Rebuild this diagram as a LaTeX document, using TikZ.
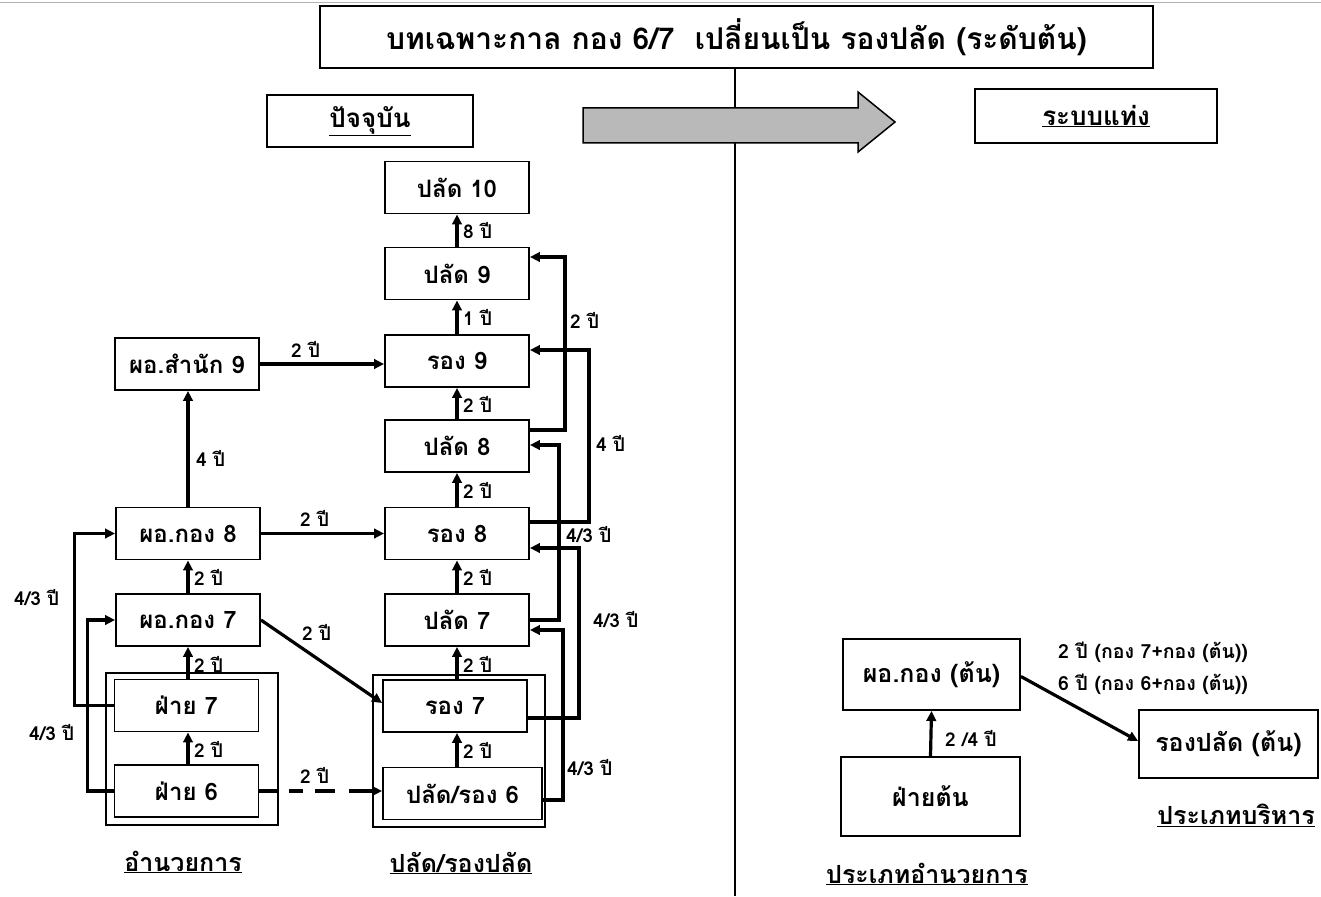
\documentclass[tikz,border=0pt]{standalone}
\usepackage{fontspec}
\setmainfont[Script=Thai]{Loma}
\usetikzlibrary{arrows.meta}
\begin{document}
\begin{tikzpicture}[x=1pt,y=-1pt,
 box/.style={draw, line width=1.9pt, inner sep=0pt, minimum width=144pt, minimum height=52pt, font=\bfseries\fontsize{24}{28}\selectfont},
 bigbox/.style={box, font=\bfseries\fontsize{25}{29}\selectfont},
 grp/.style={draw, line width=1.9pt, inner sep=0pt},
 conn/.style={line width=3.2pt, -{Triangle[length=10pt,width=9.5pt]}},
 lab/.style={font=\bfseries\fontsize{19}{22}\selectfont, inner sep=0pt, anchor=west},
 captxt/.style={font=\bfseries\fontsize{25}{29}\selectfont, inner sep=0pt}]
\useasboundingbox (0,0) rectangle (1321,896);
\draw[gray!60, line width=1pt] (0,3) -- (1321,3);

% title and headers
\node[box, minimum width=833pt, minimum height=62pt, font=\bfseries\fontsize{30}{34}\selectfont] (title) at (736.5,37) {บทเฉพาะกาล กอง 6/7\ \ เปลี่ยนเป็น รองปลัด (ระดับต้น)};
\coordinate (bot) at (735,896);
\draw[line width=1.4pt] (title.south -| bot) -- (bot);
\node[box, minimum width=206pt, minimum height=52pt, font=\bfseries\fontsize{26}{30}\selectfont] (now) at (370,121) {\underline{ปัจจุบัน}};
\node[box, minimum width=242pt, minimum height=54pt, font=\bfseries\fontsize{26}{30}\selectfont] (bar) at (1096,116) {\underline{ระบบแท่ง}};
\draw[line width=1.5pt, fill=gray!55] (583,108) -- (858,108) -- (858,92) -- (895,122) -- (858,152) -- (858,143) -- (583,143) -- cycle;

% groups
\node[grp, minimum width=172pt, minimum height=152pt] (g1) at (192,749) {};
\node[grp, minimum width=172pt, minimum height=152pt] (g2) at (459,751) {};

% middle column
\node[box] (p10) at (457,187.5) {ปลัด 10};
\node[box] (p9) at (457,273.5) {ปลัด 9};
\node[box] (r9) at (457,361) {รอง 9};
\node[box] (p8) at (457,446) {ปลัด 8};
\node[box] (r8) at (457,533.5) {รอง 8};
\node[box] (p7) at (457,620) {ปลัด 7};
\node[box] (r7) at (455,706) {รอง 7};
\node[box, minimum width=159pt] (p6) at (462.5,793.5) {ปลัด/รอง 6};

% left column
\node[box] (s9) at (187,364) {ผอ.สำนัก 9};
\node[box] (k8) at (188,533.5) {ผอ.กอง 8};
\node[box] (k7) at (188,620) {ผอ.กอง 7};
\node[box] (f7) at (186.5,705.5) {ฝ่าย 7};
\node[box] (f6) at (186.5,791) {ฝ่าย 6};

% right side
\node[bigbox, minimum width=177pt, minimum height=71pt] (kt) at (931.5,674.5) {ผอ.กอง (ต้น)};
\node[bigbox, minimum width=179pt, minimum height=79pt] (ft) at (930.5,796.5) {ฝ่ายต้น};
\node[bigbox, minimum width=179pt, minimum height=68pt] (rt) at (1228.5,744) {รองปลัด (ต้น)};

% captions
\node[captxt] (c1) at (183,862) {\underline{อำนวยการ}};
\node[captxt] (c2) at (461,863) {\underline{ปลัด/รองปลัด}};
\node[captxt] (c3) at (927,874) {\underline{ประเภทอำนวยการ}};
\node[captxt] (c4) at (1236,815) {\underline{ประเภทบริหาร}};

% middle vertical arrows
\draw[conn] (p9.north) -- (p10.south);
\draw[conn] (r9.north) -- (p9.south);
\draw[conn] (p8.north) -- (r9.south);
\draw[conn] (r8.north) -- (p8.south);
\draw[conn] (p7.north) -- (r8.south);
\draw[conn] (r7.north -| p7.north) -- (p7.south);
\draw[conn] (p6.north -| p7.north) -- (r7.south -| p7.north);
\node[lab] (l1) at (463,231) {8 ปี};
\node[lab] (l2) at (463,317) {1 ปี};
\node[lab] (l3) at (463,404) {2 ปี};
\node[lab] (l4) at (463,490) {2 ปี};
\node[lab] (l5) at (463,577) {2 ปี};
\node[lab] (l6) at (463,664) {2 ปี};
\node[lab] (l7) at (463,750) {2 ปี};

% left vertical arrows
\draw[conn] (k8.north) -- (s9.south -| k8.north);
\draw[conn] (k7.north) -- (k8.south);
\draw[conn] (f7.north -| k7.north) -- (k7.south);
\draw[conn] (f6.north -| k7.north) -- (f7.south -| k7.north);
\node[lab] (l8) at (196,458) {4 ปี};
\node[lab] (l9) at (194,577) {2 ปี};
\node[lab] (l10) at (194,664) {2 ปี};
\node[lab] (l11) at (194,749) {2 ปี};

% horizontal / diagonal
\draw[conn] (s9.east) -- (s9.east -| r9.west);
\node[lab] (l12) at (291,349) {2 ปี};
\draw[conn] (k8.east) -- (r8.west);
\node[lab] (l13) at (300,518) {2 ปี};
\draw[conn] (k7.east) -- ([yshift=3pt]r7.west);
\node[lab] (l14) at (302,632) {2 ปี};
\draw[line width=3.2pt] (f6.east) -- (f6.east -| g1.east);
\draw[conn, dash pattern=on 0pt off 10pt on 14pt off 12pt on 20pt off 14pt on 40pt] (f6.east -| g1.east) -- (f6.east -| p6.west);
\node[lab] (l15) at (300,775) {2 ปี};

% left side loops
\draw[conn] (f7.west) -- ++(-39,0) |- (k8.west);
\draw[conn] (f6.west) -- ++(-26,0) |- (k7.west);
\node[lab] (l16) at (14,598) {4/3 ปี};
\node[lab] (l17) at (29,733) {4/3 ปี};

% right side loops
\draw[conn] ([yshift=16pt]p8.east) -- ++(35,0) |- ([yshift=16.5pt]p9.east);
\draw[conn] ([yshift=11.5pt]r8.east) -- ++(59,0) |- ([yshift=11pt]r9.east);
\draw[conn] (p7.east) -- ++(29,0) |- ([yshift=1pt]p8.east);
\draw[conn] ([yshift=-12pt]r7.east) -- ++(51,0) |- ([yshift=-14.5pt]r8.east);
\draw[conn] ([yshift=-6.5pt]p6.east) -- ++(20,0) |- ([yshift=-10pt]p7.east);
\node[lab] (l18) at (570,320) {2 ปี};
\node[lab] (l19) at (596,443) {4 ปี};
\node[lab] (l20) at (566,535) {4/3 ปี};
\node[lab] (l21) at (593,620) {4/3 ปี};
\node[lab] (l22) at (567,768) {4/3 ปี};

% right diagram
\draw[conn] (ft.north) -- (kt.south);
\node[lab] (l23) at (945,738) {2 /4 ปี};
\draw[conn] ([yshift=-2pt]kt.east) -- ([yshift=3pt]rt.west);
\node[lab, font=\bfseries\fontsize{19.5}{22}\selectfont] (l24) at (1058,652) {2 ปี (กอง 7+กอง (ต้น))};
\node[lab, font=\bfseries\fontsize{19.5}{22}\selectfont] (l25) at (1058,684) {6 ปี (กอง 6+กอง (ต้น))};
\end{tikzpicture}
\end{document}
